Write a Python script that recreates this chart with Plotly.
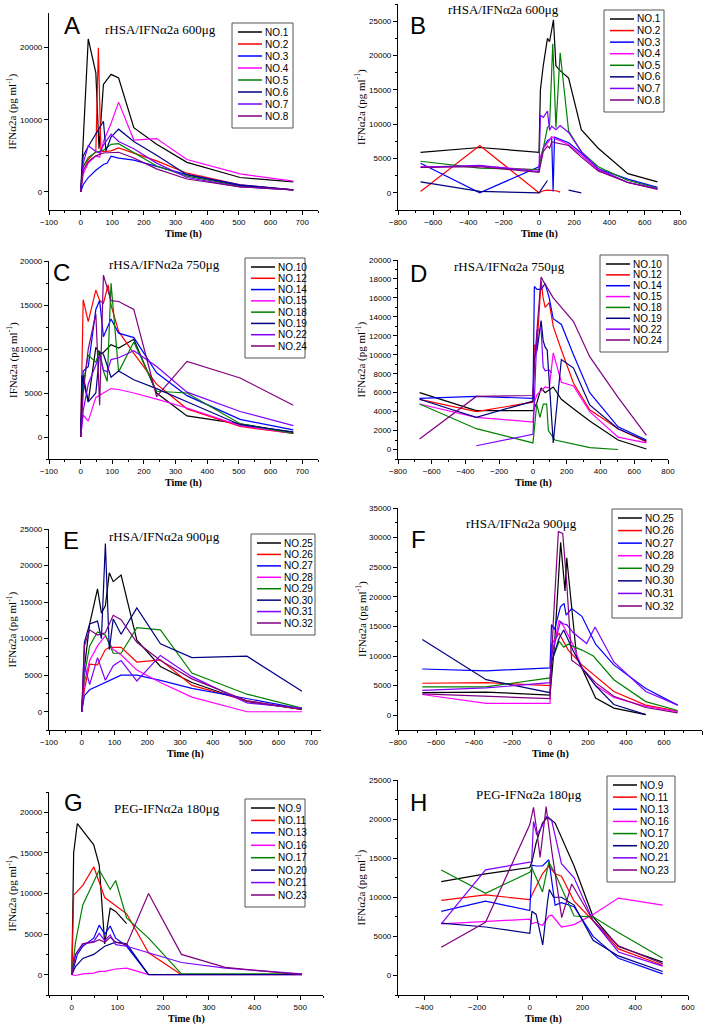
import plotly.graph_objects as go

# Figure size in pixels
W, H = 709, 1026

# Origin-style default line colours, one per patient in each panel
colors = ['#000000', '#FF0000', '#0000FF', '#FF00FF', '#008000', '#000080', '#8000FF', '#800080']

# --- A: rHSA/IFNa2a 600ug, first dose ---
a_names = ['NO.1', 'NO.2', 'NO.3', 'NO.4', 'NO.5', 'NO.6', 'NO.7', 'NO.8']
a_time = [
    [0, 24, 48, 58, 72, 96, 120, 168, 240, 336, 504, 672],
    [0, 8, 24, 48, 56, 64, 72, 96, 120, 168, 240, 336, 504, 672],
    [0, 8, 24, 48, 72, 84, 96, 120, 168, 240, 336, 504, 672],
    [0, 8, 24, 48, 60, 72, 96, 120, 168, 240, 336, 504, 672],
    [0, 8, 24, 48, 72, 96, 120, 168, 240, 336, 504, 672],
    [0, 8, 24, 48, 72, 80, 96, 120, 168, 240, 336, 504, 672],
    [0, 8, 24, 48, 60, 72, 96, 120, 168, 240, 336, 504, 672],
    [0, 8, 24, 48, 72, 96, 120, 168, 240, 336, 504, 672],
]
a_conc = [
    [0, 21200, 16500, 6000, 14900, 16300, 15800, 8900, 6600, 4100, 2000, 1400],
    [0, 3500, 4500, 5600, 20000, 5700, 5600, 5700, 6100, 5400, 4300, 2600, 1000, 300],
    [0, 1000, 2000, 3000, 3800, 4000, 4950, 4700, 4400, 3500, 2400, 1000, 300],
    [0, 2500, 4000, 5000, 4800, 7000, 9500, 12450, 7200, 7400, 4500, 2500, 1500],
    [0, 3500, 4800, 5500, 5800, 6600, 6700, 5500, 3600, 2200, 800, 300],
    [0, 5000, 6300, 8000, 9800, 5700, 7600, 8700, 7000, 5100, 2400, 900, 300],
    [0, 4000, 6400, 5600, 5400, 6500, 8000, 7000, 6000, 4000, 2000, 700, 300],
    [0, 3000, 4200, 5000, 5400, 5500, 5500, 4700, 3200, 1800, 700, 300],
]

# --- B: rHSA/IFNa2a 600ug, repeated dosing ---
b_names = a_names
b_time = [
    [-672, -336, 0, 8, 24, 48, 60, 82, 96, 120, 168, 240, 336, 504, 672],
    [-672, -336, 0, 24, 48, 72, 96, 120],
    [-672, -336, 0, 8, 24, 48, 72, 80, 88, 120, 168, 240, 336, 504, 672],
    [-672, -336, 0, 8, 24, 48, 72, 96, 120, 168, 240, 336, 504, 672],
    [-672, -336, 0, 24, 48, 60, 78, 96, 120, 168, 240, 336, 504, 672],
    [-672, -336, 0, 24, 48, 120, 168, 240],
    [-672, -336, 0, 8, 24, 48, 60, 72, 96, 120, 168, 240, 336, 504, 672],
    [-672, -336, 0, 24, 48, 60, 72, 120, 168, 240, 336, 504, 672],
]
b_conc = [
    [5900, 6600, 5900, 15000, 18500, 22500, 22000, 25200, 18500, 17800, 16700, 9200, 6500, 2800, 1600],
    [200, 6900, 0, 300, 400, 400, 300, 100],
    [4300, 0, 3800, 5000, 6500, 7600, 8000, 200, 8100, 7800, 7300, 5800, 3500, 2000, 800],
    [3800, 3900, 3300, 5000, 6500, 7200, 8200, 7800, 7600, 7000, 5500, 3300, 1500, 600],
    [4600, 3600, 3400, 6700, 9500, 9800, 21700, 9500, 20400, 9000, 6000, 3800, 1800, 700],
    [1600, 200, 0, 1000, 1800, None, 400, 0],
    [3700, 4000, 3100, 11300, 11000, 11900, 9100, 9700, 9200, 9800, 8800, 6000, 3500, 1500, 600],
    [3700, 3800, 3000, 6000, 6800, 6500, 7400, 7200, 6900, 5200, 3200, 1500, 500],
]

# --- C: rHSA/IFNa2a 750ug, first dose ---
c_names = ['NO.10', 'NO.12', 'NO.14', 'NO.15', 'NO.18', 'NO.19', 'NO.22', 'NO.24']
c_time = [
    [0, 8, 24, 48, 60, 72, 96, 120, 168, 240, 336, 504, 672],
    [0, 8, 24, 48, 60, 72, 87, 96, 120, 168, 240, 336, 504, 672],
    [0, 8, 24, 48, 60, 72, 96, 120, 168, 240, 336, 504, 672],
    [0, 8, 24, 48, 72, 96, 120, 168, 240, 336, 504, 672],
    [0, 8, 24, 48, 60, 72, 84, 96, 120, 168, 240, 336, 504, 672],
    [0, 4, 24, 48, 60, 72, 96, 120, 168, 240, 336, 504, 672],
    [0, 8, 24, 48, 60, 72, 84, 96, 120, 168, 240, 336, 504, 672],
    [0, 8, 24, 48, 60, 72, 96, 120, 168, 240, 336, 504, 672],
]
c_conc = [
    [0, 7000, 4000, 10200, 9500, 9600, 10500, 10100, 11100, 5000, 2400, 1500, 500],
    [0, 15600, 13100, 16700, 15500, 15200, 17300, 15000, 12000, 9500, 6000, 3200, 1200, 400],
    [0, 7500, 8000, 14500, 15500, 11400, 13400, 11800, 11300, 7300, 4700, 2000, 800],
    [0, 2500, 1800, 4500, 5000, 5500, 5400, 5000, 4300, 3300, 1300, 400],
    [0, 6000, 9300, 8500, 9800, 7500, 6300, 17500, 7400, 10800, 5200, 5000, 1500, 400],
    [0, 7000, 4000, 5000, 9600, 9400, 6800, 7500, 6500, 5500, 4000, 1400, 600],
    [0, 3000, 6000, 8300, 9300, 7600, 7400, 8800, 9000, 9800, 8000, 5100, 2900, 1300],
    [0, 5000, 10000, 14000, 3600, 18400, 15500, 15400, 14500, 4600, 8600, 6700, 3600],
]

# --- D: rHSA/IFNa2a 750ug, repeated dosing ---
d_names = c_names
d_time = [
    [-672, -336, 0, 24, 48, 72, 120, 168, 240, 336, 504, 672],
    [-672, -336, 0, 8, 24, 48, 60, 72, 96, 120, 168, 240, 336, 504, 672],
    [-672, -336, 0, 8, 24, 48, 72, 96, 120, 168, 240, 336, 504, 672],
    [-672, -336, 0, 8, 24, 48, 72, 96, 120, 168, 240, 336, 504, 672],
    [-672, -336, 0, 22, 41, 61, 81, 91, 130, 240, 337, 504],
    [-672, -336, 0, 8, 24, 48, 60, 72, 84, 120, 168, 240, 336, 504, 672],
    [-336, 0, 24, 48, 60, 72, 96, 110],
    [-672, -336, 0, 8, 48, 60, 120, 240, 336, 504, 672],
]
d_conc = [
    [6000, 4100, 4100, 5000, 6500, 6000, 6600, 5300, 4300, 3000, 1000, 50],
    [5300, 4000, 5000, 11000, 11000, 17800, 16000, 15000, 15500, 13000, 10500, 7000, 4200, 2200, 800],
    [5400, 5600, 5400, 17200, 16900, 16900, 17500, 16000, 13800, 13200, 10000, 6000, 2400, 1000],
    [4800, 3400, 2900, 5000, 5800, 6200, 6600, 6500, 10200, 7100, 6700, 4000, 1300, 700],
    [4800, 2200, 700, 4800, 3400, 4800, 4800, 2000, 1000, 600, 200, 0],
    [5300, 3400, 5100, 9700, 10500, 13600, 11500, 10800, 10500, 700, 9500, 8600, 4700, 2200, 900],
    [400, 1600, 12500, 12800, 8700, 8300, 8400, 8100],
    [1100, 5600, 5700, 9000, 18200, 17800, 16000, 13500, 9800, 5500, 1500],
]

# --- E: rHSA/IFNa2a 900ug, first dose ---
e_names = ['NO.25', 'NO.26', 'NO.27', 'NO.28', 'NO.29', 'NO.30', 'NO.31', 'NO.32']
e_time = [
    [0, 8, 24, 48, 60, 72, 84, 96, 120, 168, 240, 336, 504, 672],
    [0, 8, 24, 48, 72, 84, 120, 168, 240, 336, 504, 672],
    [0, 8, 24, 48, 72, 96, 120, 168, 240, 336, 504, 672],
    [0, 8, 24, 48, 72, 96, 120, 168, 240, 336, 504, 672],
    [0, 8, 24, 48, 72, 96, 120, 168, 240, 336, 504, 672],
    [0, 8, 24, 48, 60, 72, 84, 96, 120, 168, 240, 336, 504, 672],
    [0, 8, 24, 48, 72, 96, 120, 168, 240, 336, 504, 672],
    [0, 8, 24, 48, 72, 96, 120, 168, 240, 336, 504, 672],
]
e_conc = [
    [0, 6000, 12000, 16800, 13500, 14500, 19000, 17800, 18700, 9800, 6200, 4000, 1400, 300],
    [0, 3000, 6500, 6400, 8500, 8800, 8800, 6800, 7100, 3600, 1500, 300],
    [0, 2200, 3000, 3500, 4000, 4500, 5000, 5000, 4300, 3200, 1800, 400],
    [0, 4000, 7000, 9000, 10400, 8500, 7800, 5700, 4000, 2000, 0, 0],
    [0, 5000, 9000, 10900, 10500, 8000, 8000, 11500, 11200, 5300, 2400, 500],
    [0, 9500, 12000, 12400, 10000, 23000, 8500, 12700, 10600, 14200, 9300, 7400, 7600, 2800],
    [0, 6500, 3700, 7400, 4300, 6300, 7000, 4200, 7700, 4800, 1200, 500],
    [0, 9000, 11200, 10500, 10800, 13200, 12600, 9500, 7000, 4500, 1500, 300],
]

# --- F: rHSA/IFNa2a 900ug, repeated dosing ---
f_names = e_names
f_time = [
    [-672, -336, 0, 24, 56, 79, 88, 140, 240, 336, 504],
    [-672, -336, 0, 8, 48, 96, 168, 240, 336, 504, 672],
    [-672, -336, 0, 8, 24, 55, 74, 85, 114, 168, 240, 336, 504, 672],
    [-672, -336, 0, 8, 48, 72, 120, 168, 240, 336, 504, 672],
    [-672, -336, 0, 8, 48, 72, 96, 168, 228, 336, 504, 672],
    [-672, -336, 0, 8, 48, 72, 120, 168, 240, 336, 504],
    [-672, -336, 0, 8, 24, 55, 72, 88, 120, 193, 237, 336, 504, 672],
    [-672, -336, 0, 17, 44, 67, 88, 114, 168, 240, 336, 504, 672],
]
f_conc = [
    [3800, 3900, 3400, 12000, 29200, 21000, 26600, 9900, 2900, 1200, 100],
    [5400, 5500, 5000, 12000, 13800, 11000, 8500, 6500, 4000, 1700, 700],
    [7800, 7500, 8000, 15300, 14500, 18300, 18900, 16900, 18000, 16700, 12000, 8500, 4500, 1700],
    [3500, 2000, 2000, 10000, 16000, 15000, 12000, 8000, 5000, 3000, 1500, 600],
    [4800, 4800, 6300, 9000, 12500, 11500, 12000, 11000, 10000, 6000, 2300, 800],
    [12800, 6000, 3800, 9000, 13000, 14400, 11000, 8000, 5000, 1800, 100],
    [4200, 4600, 5500, 10000, 12000, 15800, 15400, 15300, 14000, 12100, 14900, 9000, 4000, 1700],
    [3600, 3200, 2800, 15500, 31000, 30700, 22300, 9300, 8000, 5500, 3200, 1300, 400],
]

# --- G: PEG-IFNa2a 180ug, first dose ---
g_names = ['NO.9', 'NO.11', 'NO.13', 'NO.16', 'NO.17', 'NO.20', 'NO.21', 'NO.23']
g_time = [
    [0, 4, 12, 48, 60, 72, 84, 96, 120],
    [0, 4, 24, 48, 72, 96, 120, 168, 240],
    [0, 12, 24, 48, 60, 72, 84, 96, 120, 168],
    [0, 8, 24, 48, 60, 72, 96, 120, 168, 240, 336, 504],
    [0, 8, 24, 60, 84, 96, 120, 168, 240, 336, 504],
    [0, 8, 24, 48, 72, 96, 120, 168, 240, 336, 504],
    [0, 8, 24, 48, 60, 72, 84, 96, 120, 168, 240, 336, 504],
    [0, 8, 24, 48, 60, 72, 84, 96, 120, 168, 240, 336, 504],
]
g_conc = [
    [0, 15000, 18600, 16000, 13500, 3800, 8200, 7800, 6300],
    [0, 9800, 11000, 13300, 9500, 8500, 7500, 2700, 0],
    [0, 2500, 3500, 4500, 6100, 5000, 6000, 4500, 3500, 0],
    [0, -100, 100, 200, 400, 400, 700, 800, 0, 0, 0, 0],
    [0, 4000, 8600, 12900, 10500, 11600, 7000, 4500, 100, 100, 100],
    [0, 1000, 2000, 2500, 3500, 4000, 3800, 0, 0, 0, 0],
    [0, 2500, 3800, 4100, 5100, 4200, 4900, 3700, 3500, 2700, 1500, 800, 100],
    [0, 2500, 3800, 4000, 4300, 4000, 4600, 4000, 3700, 10000, 2500, 900, 0],
]

# --- H: PEG-IFNa2a 180ug, repeated dosing ---
h_names = g_names
h_time = [
    [-336, -168, 0, 8, 24, 48, 68, 96, 168, 240, 336, 504],
    [-336, -168, 0, 8, 48, 72, 96, 120, 168, 240, 336, 504],
    [-336, -168, 0, 8, 24, 48, 72, 96, 120, 168, 240, 336, 504],
    [-336, -168, 0, 8, 24, 48, 72, 84, 120, 168, 240, 336, 504],
    [-336, -168, 0, 8, 48, 72, 96, 168, 240, 336, 504],
    [-336, -168, 0, 8, 24, 49, 67, 74, 90, 120, 168, 240, 336, 504],
    [-336, -168, 0, 7, 14, 26, 45, 62, 83, 120, 168, 240, 336, 504],
    [-336, -168, 0, 14, 26, 39, 62, 83, 121, 159, 240, 336, 504],
]
h_conc = [
    [12000, 13000, 13800, 14500, 17000, 19500, 20300, 19500, 14000, 7500, 3700, 1700],
    [9600, 10300, 9700, 10300, 13000, 14000, 13000, 12700, 9500, 7000, 3400, 1300],
    [8200, 9500, 8300, 14100, 14000, 14000, 14800, 9000, 9300, 8800, 5000, 2200, 200],
    [6600, 6900, 7200, 6600, 6800, 6400, 7600, 7700, 6200, 6500, 7800, 9900, 9000],
    [13500, 10500, 13200, 13700, 10700, 14500, 13000, 7600, 7500, 5500, 2200],
    [6700, 6200, 5400, 8200, 7800, 3900, 9400, 11000, 10000, 10000, 9000, 4500, 2500, 500],
    [6600, 13500, 14500, 14500, 19700, 18000, 19000, 20300, 19800, 14300, 12500, 7000, 3000, 1200],
    [3600, 6800, 19300, 21500, 18600, 15100, 21600, 16000, 7400, 11700, 7000, 3800, 1500],
]

# Panel layout (pixel boxes: left, top, right, bottom)
panels = [
    dict(letter='A', title='rHSA/IFNα2a 600μg', names=a_names, times=a_time, conc=a_conc,
         box=(49, 13, 318, 210), xr=[-100, 750], yr=[-2500, 24800], xd=100, yd=10000,
         title_at=(160, 29), letter_at=(72, 25), legend=(232, 23, 293, 128)),
    dict(letter='B', title='rHSA/IFNα2a 600μg', names=b_names, times=b_time, conc=b_conc,
         box=(398, 4, 680, 210), xr=[-800, 800], yr=[-2500, 27500], xd=200, yd=5000,
         title_at=(503, 9), letter_at=(418, 25), legend=(604, 10, 664, 112)),
    dict(letter='C', title='rHSA/IFNα2a 750μg', names=c_names, times=c_time, conc=c_conc,
         box=(49, 261, 318, 459), xr=[-100, 750], yr=[-2500, 20000], xd=100, yd=5000,
         title_at=(164, 264), letter_at=(61, 272), legend=(245, 258, 305, 358)),
    dict(letter='D', title='rHSA/IFNα2a 750μg', names=d_names, times=d_time, conc=d_conc,
         box=(398, 260, 668, 459), xr=[-800, 800], yr=[-1000, 20000], xd=200, yd=2000,
         title_at=(509, 266), letter_at=(418, 273), legend=(600, 255, 668, 352)),
    dict(letter='E', title='rHSA/IFNα2a 900μg', names=e_names, times=e_time, conc=e_conc,
         box=(49, 529, 321, 730), xr=[-100, 730], yr=[-2500, 25000], xd=100, yd=5000,
         title_at=(164, 536), letter_at=(71, 540), legend=(251, 534, 315, 635)),
    dict(letter='F', title='rHSA/IFNα2a 900μg', names=f_names, times=f_time, conc=f_conc,
         box=(398, 508, 702, 730), xr=[-800, 800], yr=[-2500, 35000], xd=200, yd=5000,
         title_at=(521, 523), letter_at=(418, 539), legend=(612, 509, 682, 618)),
    dict(letter='G', title='PEG-IFNα2a 180μg', names=g_names, times=g_time, conc=g_conc,
         box=(49, 792, 323, 995), xr=[-50, 550], yr=[-2500, 22500], xd=100, yd=5000,
         title_at=(167, 808), letter_at=(73, 802), legend=(245, 799, 305, 907)),
    dict(letter='H', title='PEG-IFNα2a 180μg', names=h_names, times=h_time, conc=h_conc,
         box=(398, 780, 688, 995), xr=[-500, 600], yr=[-2500, 25000], xd=200, yd=5000,
         title_at=(529, 794), letter_at=(418, 802), legend=(607, 776, 675, 882)),
]

SERIF = 'Liberation Serif'
SANS = 'Liberation Sans'


def px(x):
    return x / W


def py(y):
    return 1 - y / H


def label(text, x, y, size, family, **kw):
    # centred text placed in figure pixels
    return dict(text=text, x=px(x), y=py(y), xref='paper', yref='paper', showarrow=False,
                xanchor=kw.pop('xanchor', 'center'), yanchor='middle',
                font=dict(family=family, size=size, color='black'), **kw)


axis_style = dict(showline=True, linecolor='black', linewidth=1.2, ticks='outside', ticklen=4,
                  tickwidth=1, tickcolor='black', showgrid=False, zeroline=False, tickformat='d',
                  automargin=False, tickfont=dict(family=SANS, size=8, color='black'))

fig = go.Figure()
shapes, annotations, layout_axes = [], [], {}

for i, p in enumerate(panels):
    n = '' if i == 0 else str(i + 1)
    x0, y0, x1, y1 = p['box']

    # data lines
    for name, t, c, col in zip(p['names'], p['times'], p['conc'], colors):
        fig.add_trace(go.Scatter(x=t, y=c, mode='lines', name=name, showlegend=False,
                                 line=dict(color=col, width=1.2),
                                 xaxis='x' + n, yaxis='y' + n))

    layout_axes['xaxis' + n] = dict(axis_style, domain=[px(x0), px(x1)], range=p['xr'],
                                    anchor='y' + n, dtick=p['xd'], tick0=0,
                                    minor=dict(ticks='outside', ticklen=2, tickcolor='black',
                                               dtick=p['xd'] / 2))
    layout_axes['yaxis' + n] = dict(axis_style, domain=[py(y1), py(y0)], range=p['yr'],
                                    anchor='x' + n, dtick=p['yd'], tick0=0,
                                    minor=dict(ticks='outside', ticklen=2, tickcolor='black',
                                               dtick=p['yd'] / 2))

    # axis titles
    annotations.append(label('<b>Time (h)</b>', (x0 + x1) / 2, y1 + 24, 10, SERIF))
    ytx = 12 if x0 < 200 else 361
    annotations.append(label('IFNα2a (pg ml<sup>-1</sup>)', ytx, (y0 + y1) / 2, 11, SERIF,
                             textangle=-90))

    # panel letter and title
    annotations.append(label(p['letter'], *p['letter_at'], 24, SANS))
    annotations.append(label(p['title'], *p['title_at'], 13, SERIF))

    # boxed legend drawn by hand (plotly's own entries are too tall)
    bl, bt, br, bb = p['legend']
    shapes.append(dict(type='rect', xref='paper', yref='paper', x0=px(bl), x1=px(br),
                       y0=py(bb), y1=py(bt), line=dict(color='#555555', width=1),
                       fillcolor='white', layer='above'))
    sp = (bb - bt - 21) / 7
    for k, (name, col) in enumerate(zip(p['names'], colors)):
        cy = bt + 9 + k * sp
        shapes.append(dict(type='line', xref='paper', yref='paper', x0=px(bl + 6), x1=px(bl + 30),
                           y0=py(cy), y1=py(cy), line=dict(color=col, width=1.5), layer='above'))
        annotations.append(label(name, bl + 31, cy, 10, SANS, xanchor='left'))

fig.update_layout(
    width=W, height=H,
    margin=dict(l=0, r=0, t=0, b=0),
    paper_bgcolor='white', plot_bgcolor='white',
    showlegend=False,
    shapes=shapes, annotations=annotations,
    **layout_axes
)

# the page body has a default 8px margin; drop it so the figure sits at the corner
fig.write_html("out.html", config={'displayModeBar': False},
               post_script="document.body.style.margin = '0px';")
